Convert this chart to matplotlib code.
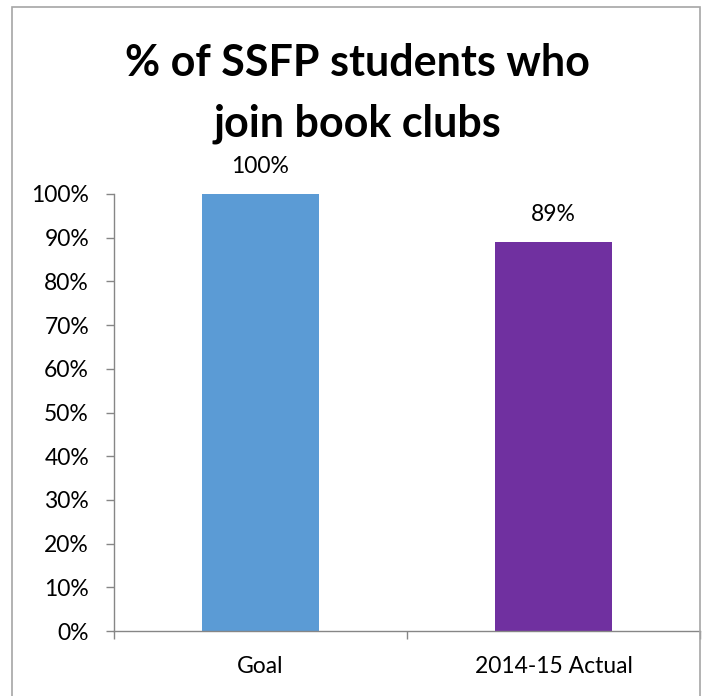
import matplotlib
matplotlib.use("Agg")
import matplotlib.pyplot as plt
from matplotlib.patches import Rectangle
from matplotlib.ticker import FixedLocator, PercentFormatter

categories = ["Goal", "2014-15 Actual"]
values = [100, 89]
bar_colors = ["#5B9BD5", "#7030A0"]
y_ticks = [0, 10, 20, 30, 40, 50, 60, 70, 80, 90, 100]
title_lines = ["% of SSFP students who", "join book clubs"]

W, H = 709, 696
fig = plt.figure(figsize=(W / 100, H / 100), dpi=100)
plt.rcParams["font.family"] = ["Lato", "DejaVu Sans"]

# outer chart frame
fig.patches.append(Rectangle((12 / W, -0.05), (700 - 12) / W, (H - 7) / H + 0.05,
                             transform=fig.transFigure, fill=False,
                             edgecolor="#A6A6A6", linewidth=1.2))

ax = fig.add_axes([114 / W, 65 / H, (700 - 114) / W, (631 - 194) / H])
x = list(range(len(categories)))
ax.bar(x, values, width=0.40, color=bar_colors)
ax.set_xlim(-0.5, len(categories) - 0.5)
ax.set_ylim(0, 100)

ax.yaxis.set_major_locator(FixedLocator(y_ticks))
ax.yaxis.set_major_formatter(PercentFormatter(decimals=0))
ax.tick_params(axis="y", direction="out", length=6, width=1, color="#868686",
               pad=12, labelsize=16.5, labelcolor="#000000")

ax.set_xticks(x)
ax.set_xticklabels(categories)
ax.set_xticks([i - 0.5 for i in range(len(categories) + 1)], minor=True)
ax.tick_params(axis="x", which="major", length=0, pad=18, labelsize=16.5,
               labelcolor="#000000")
ax.tick_params(axis="x", which="minor", direction="out", length=6, width=1,
               color="#868686")

for side in ("top", "right"):
    ax.spines[side].set_visible(False)
for side in ("left", "bottom"):
    ax.spines[side].set_color("#868686")
    ax.spines[side].set_linewidth(1)

for xi, v in zip(x, values):
    ax.annotate(f"{v}%", (xi, v), xytext=(0, 20), textcoords="offset points",
                ha="center", va="center", fontsize=16.5, color="#000000")

fig.text(357 / W, 1 - 76 / H, title_lines[0], ha="center", va="baseline",
         fontsize=31, fontweight="bold", color="#000000")
fig.text(357 / W, 1 - 136 / H, title_lines[1], ha="center", va="baseline",
         fontsize=31, fontweight="bold", color="#000000")

fig.savefig("out.png", dpi=100)
